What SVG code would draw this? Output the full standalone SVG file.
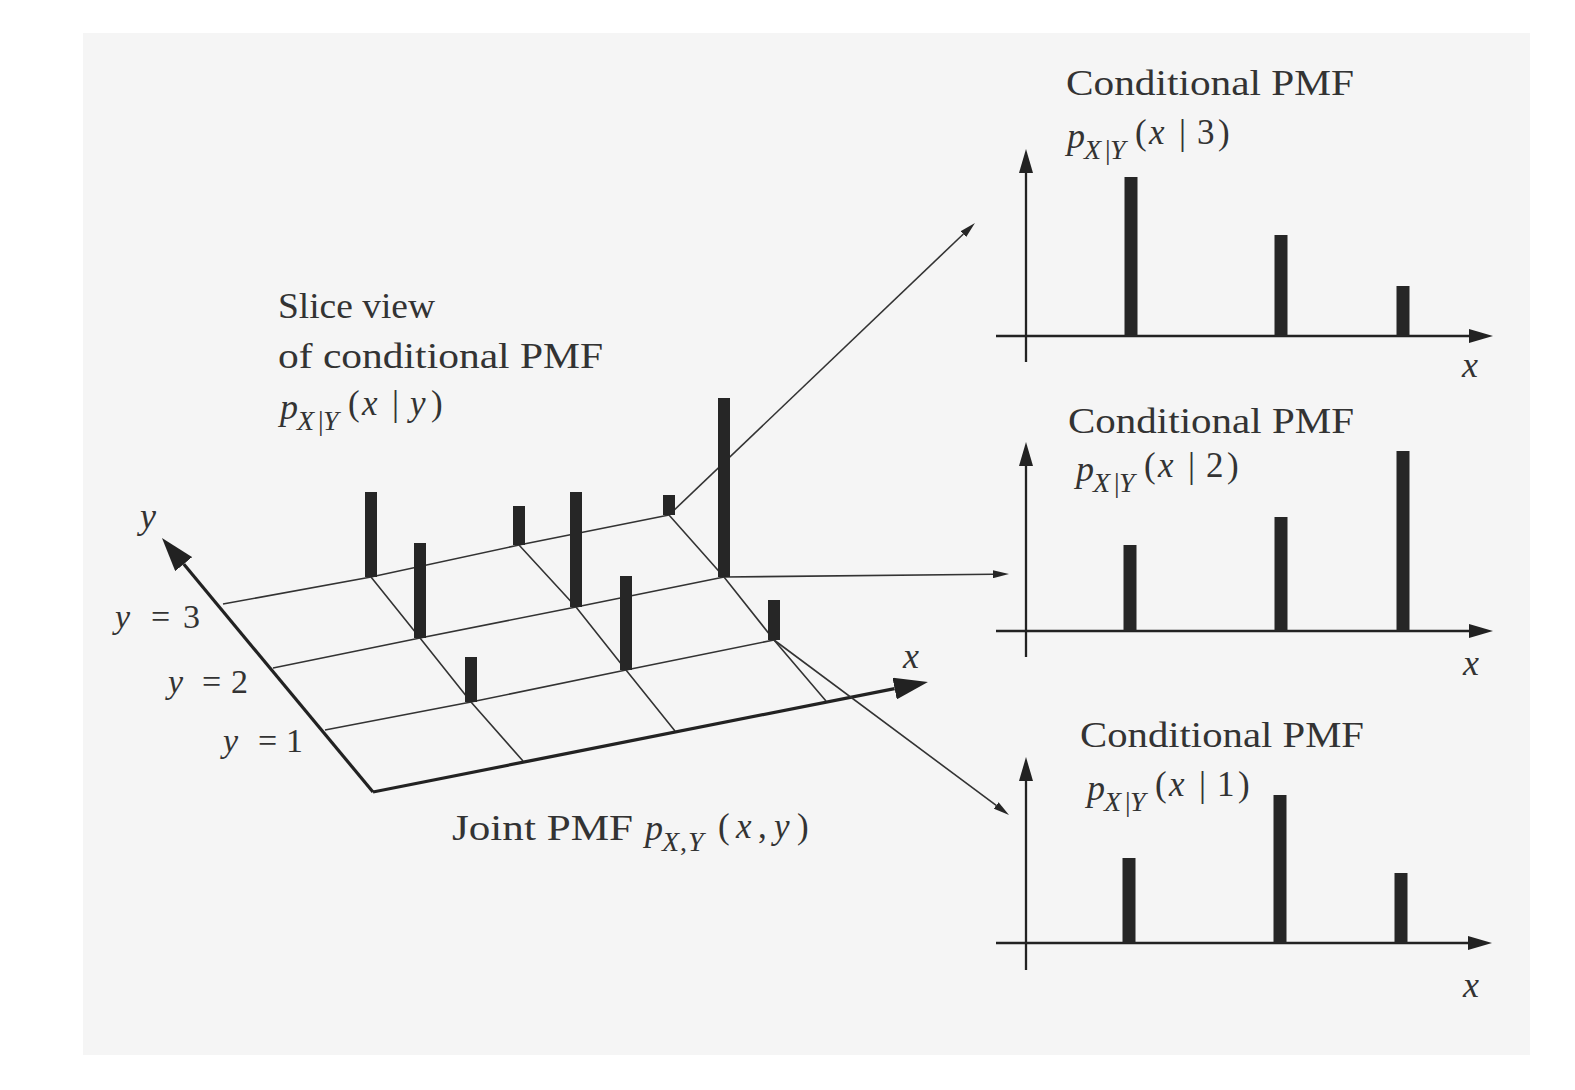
<svg xmlns="http://www.w3.org/2000/svg" width="1575" height="1090" viewBox="0 0 1575 1090">
<defs>
<style>
.t{font-family:"Liberation Serif","Times New Roman",serif;font-size:36px;fill:#333}
.i{font-style:italic}
.s{font-size:28px;font-style:italic}
.n{font-style:normal}
.m{font-size:35px}
.g{stroke:#333;stroke-width:1.6;fill:none}
.ax{stroke:#222;stroke-width:3.2;fill:none}
.pa{stroke:#222;stroke-width:2.3;fill:none}
.cn{stroke:#333;stroke-width:1.6;fill:none}
.bar{fill:#262626}
</style>
<marker id="hS" viewBox="0 0 16 8" markerWidth="16" markerHeight="8" refX="0" refY="4" orient="auto" markerUnits="userSpaceOnUse"><path d="M0,0 L16,4 L0,8 z" fill="#262626"/></marker>
<marker id="hM" viewBox="0 0 24 14" markerWidth="24" markerHeight="14" refX="0" refY="7" orient="auto" markerUnits="userSpaceOnUse"><path d="M0,0 L24,7 L0,14 z" fill="#222"/></marker>
<marker id="hL" viewBox="0 0 34 22" markerWidth="34" markerHeight="22" refX="0" refY="11" orient="auto" markerUnits="userSpaceOnUse"><path d="M0,0 L34,11 L0,22 z" fill="#222"/></marker>
</defs>
<rect x="0" y="0" width="1575" height="1090" fill="#fff"/>
<rect x="83" y="33" width="1447" height="1022" fill="#f5f5f5"/>

<g id="joint-pmf">
  <g class="g">
    <polyline points="223,604 371,577 519,545 669,515"/>
    <polyline points="273,668 420,638 576,607 724,577"/>
    <polyline points="325,730 471,702 626,670 774,640"/>
    <polyline points="371,577 420,638 471,702 523,761"/>
    <polyline points="519,545 576,607 626,670 675,731"/>
    <polyline points="669,515 724,577 774,640 826,701"/>
  </g>
  <line class="ax" x1="373" y1="792" x2="183.7" y2="564.1" marker-end="url(#hL)"/>
  <line class="ax" x1="373" y1="792" x2="894.6" y2="688.6" marker-end="url(#hL)"/>
  <text class="t i" x="140" y="528">y</text>
  <text class="t i" x="903" y="668">x</text>
  <text class="t" y="628" style="font-size:34px"><tspan class="i" x="115">y</tspan><tspan x="151">=</tspan><tspan x="183">3</tspan></text>
  <text class="t" y="693" style="font-size:34px"><tspan class="i" x="168">y</tspan><tspan x="202">=</tspan><tspan x="231">2</tspan></text>
  <text class="t" y="752" style="font-size:34px"><tspan class="i" x="223">y</tspan><tspan x="258">=</tspan><tspan x="286">1</tspan></text>
  <text class="t" x="452" y="840" textLength="181" lengthAdjust="spacingAndGlyphs">Joint PMF</text>
  <text class="t"><tspan class="i" x="645" y="840">p</tspan><tspan class="s" x="662" y="851">X</tspan><tspan class="s n" x="680" y="851">,</tspan><tspan class="s" x="688" y="851">Y</tspan><tspan class="m" x="718" y="838">(</tspan><tspan class="m i" x="736" y="838">x</tspan><tspan class="m" x="758" y="838">,</tspan><tspan class="m i" x="774" y="838">y</tspan><tspan class="m" x="797" y="838">)</tspan></text>
</g>

<g id="slice-label">
  <text class="t" x="278" y="318" textLength="157" lengthAdjust="spacingAndGlyphs">Slice view</text>
  <text class="t" x="278" y="368" textLength="325" lengthAdjust="spacingAndGlyphs">of conditional PMF</text>
  <text class="t"><tspan class="i" x="280" y="419">p</tspan><tspan class="s" x="297" y="430">X</tspan><tspan class="s n" x="318" y="430">|</tspan><tspan class="s" x="323" y="430">Y</tspan><tspan class="m" x="348" y="415">(</tspan><tspan class="m i" x="362" y="415">x</tspan><tspan class="m" x="392" y="415">|</tspan><tspan class="m i" x="410" y="415">y</tspan><tspan class="m" x="431" y="415">)</tspan></text>
</g>

<g id="connectors">
  <line class="cn" x1="669" y1="515" x2="963.4" y2="234" marker-end="url(#hS)"/>
  <line class="cn" x1="724" y1="577" x2="993" y2="574.2" marker-end="url(#hS)"/>
  <line class="cn" x1="774" y1="640" x2="996.2" y2="805.4" marker-end="url(#hS)"/>
</g>

<g id="bars-3d">
  <rect class="bar" x="365" y="492" width="12" height="85"/>
  <rect class="bar" x="513" y="506" width="12" height="39"/>
  <rect class="bar" x="663" y="495" width="12" height="20"/>
  <rect class="bar" x="414" y="543" width="12" height="95"/>
  <rect class="bar" x="570" y="492" width="12" height="115"/>
  <rect class="bar" x="718" y="398" width="12" height="179"/>
  <rect class="bar" x="465" y="657" width="12" height="45"/>
  <rect class="bar" x="620" y="576" width="12" height="94"/>
  <rect class="bar" x="768" y="600" width="12" height="40"/>
</g>

<g id="panel-y3">
  <text class="t" x="1066" y="95" textLength="288" lengthAdjust="spacingAndGlyphs">Conditional PMF</text>
  <text class="t"><tspan class="i" x="1067" y="148">p</tspan><tspan class="s" x="1084" y="159">X</tspan><tspan class="s n" x="1105" y="159">|</tspan><tspan class="s" x="1110" y="159">Y</tspan><tspan class="m" x="1135" y="144">(</tspan><tspan class="m i" x="1149" y="144">x</tspan><tspan class="m" x="1179" y="144">|</tspan><tspan class="m" x="1197" y="144">3</tspan><tspan class="m" x="1218" y="144">)</tspan></text>
  <line class="pa" x1="1026" y1="362" x2="1026" y2="173" marker-end="url(#hM)"/>
  <line class="pa" x1="996" y1="336" x2="1469" y2="336" marker-end="url(#hM)"/>
  <rect class="bar" x="1124.5" y="177" width="13" height="159"/>
  <rect class="bar" x="1274.5" y="235" width="13" height="101"/>
  <rect class="bar" x="1396.5" y="286" width="13" height="50"/>
  <text class="t i" x="1462" y="377">x</text>
</g>

<g id="panel-y2">
  <text class="t" x="1068" y="433" textLength="286" lengthAdjust="spacingAndGlyphs">Conditional PMF</text>
  <text class="t"><tspan class="i" x="1076" y="481">p</tspan><tspan class="s" x="1093" y="492">X</tspan><tspan class="s n" x="1114" y="492">|</tspan><tspan class="s" x="1119" y="492">Y</tspan><tspan class="m" x="1144" y="477">(</tspan><tspan class="m i" x="1158" y="477">x</tspan><tspan class="m" x="1188" y="477">|</tspan><tspan class="m" x="1206" y="477">2</tspan><tspan class="m" x="1227" y="477">)</tspan></text>
  <line class="pa" x1="1026" y1="657" x2="1026" y2="466" marker-end="url(#hM)"/>
  <line class="pa" x1="996" y1="631" x2="1469" y2="631" marker-end="url(#hM)"/>
  <rect class="bar" x="1123.5" y="545" width="13" height="86"/>
  <rect class="bar" x="1274.5" y="517" width="13" height="114"/>
  <rect class="bar" x="1396.5" y="451" width="13" height="180"/>
  <text class="t i" x="1463" y="675">x</text>
</g>

<g id="panel-y1">
  <text class="t" x="1080" y="747" textLength="284" lengthAdjust="spacingAndGlyphs">Conditional PMF</text>
  <text class="t"><tspan class="i" x="1087" y="800">p</tspan><tspan class="s" x="1104" y="811">X</tspan><tspan class="s n" x="1125" y="811">|</tspan><tspan class="s" x="1130" y="811">Y</tspan><tspan class="m" x="1155" y="796">(</tspan><tspan class="m i" x="1169" y="796">x</tspan><tspan class="m" x="1199" y="796">|</tspan><tspan class="m" x="1217" y="796">1</tspan><tspan class="m" x="1238" y="796">)</tspan></text>
  <line class="pa" x1="1026" y1="970" x2="1026" y2="781" marker-end="url(#hM)"/>
  <line class="pa" x1="996" y1="943" x2="1468" y2="943" marker-end="url(#hM)"/>
  <rect class="bar" x="1122.5" y="858" width="13" height="85"/>
  <rect class="bar" x="1273.5" y="795" width="13" height="148"/>
  <rect class="bar" x="1394.5" y="873" width="13" height="70"/>
  <text class="t i" x="1463" y="997">x</text>
</g>
</svg>
